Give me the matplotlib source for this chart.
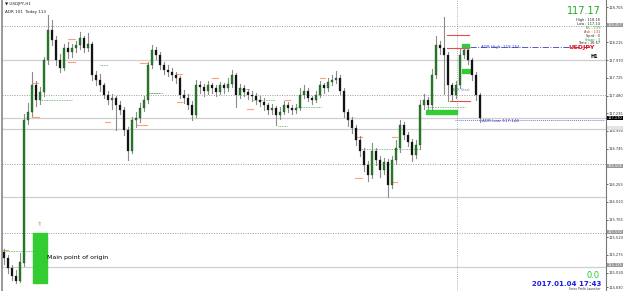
import matplotlib
matplotlib.use('Agg')
import matplotlib.pyplot as plt
from matplotlib.patches import Rectangle

# USDJPY candles (price)
closes = [115.23, 115.09, 114.98, 114.92, 115.17, 117.14, 117.25, 117.62, 117.42, 117.53,
          117.97, 118.39, 118.25, 117.97, 117.86, 118.14, 118.08, 118.14, 118.18, 118.28,
          118.14, 118.19, 117.76, 117.69, 117.62, 117.49, 117.42, 117.44, 117.35, 117.28,
          117.00, 116.72, 117.14, 117.17, 117.31, 117.42, 117.90, 118.11, 118.04, 117.90,
          117.83, 117.81, 117.76, 117.72, 117.49, 117.44, 117.35, 117.21, 117.62, 117.60,
          117.55, 117.62, 117.58, 117.53, 117.62, 117.58, 117.64, 117.76, 117.49, 117.58,
          117.53, 117.49, 117.47, 117.42, 117.39, 117.35, 117.28, 117.31, 117.21, 117.25,
          117.35, 117.31, 117.28, 117.31, 117.49, 117.55, 117.44, 117.42, 117.49, 117.62,
          117.58, 117.67, 117.69, 117.72, 117.55, 117.25, 117.14, 117.03, 116.86, 116.72,
          116.52, 116.38, 116.72, 116.59, 116.45, 116.56, 116.24, 116.59, 116.75, 117.07,
          116.93, 116.84, 116.66, 116.79, 117.35, 117.42, 117.35, 117.76, 118.18, 118.14,
          118.04, 117.62, 117.49, 117.62, 118.04, 118.11, 117.97, 117.76, 117.49, 117.17]
highs = [115.36, 115.28, 115.14, 115.06, 115.30, 117.22, 117.38, 117.80, 117.68, 117.60,
         118.02, 118.60, 118.52, 118.30, 118.05, 118.20, 118.22, 118.20, 118.24, 118.36,
         118.31, 118.35, 118.22, 117.82, 117.78, 117.66, 117.55, 117.50, 117.48, 117.40,
         117.32, 117.05, 117.18, 117.25, 117.38, 117.48, 117.95, 118.18, 118.15, 118.08,
         117.95, 117.90, 117.86, 117.80, 117.75, 117.56, 117.50, 117.40, 117.70, 117.68,
         117.64, 117.68, 117.66, 117.62, 117.67, 117.66, 117.72, 117.83, 117.79, 117.64,
         117.62, 117.57, 117.54, 117.52, 117.47, 117.44, 117.38, 117.36, 117.34, 117.32,
         117.40, 117.39, 117.35, 117.37, 117.58, 117.62, 117.58, 117.48, 117.54, 117.68,
         117.66, 117.72, 117.76, 117.82, 117.76, 117.58, 117.30, 117.18, 117.07, 116.92,
         116.76, 116.58, 116.82, 116.76, 116.64, 116.62, 116.60, 116.64, 116.86, 117.14,
         117.12, 116.98, 116.88, 116.86, 117.42, 117.50, 117.46, 117.85, 118.30, 118.24,
         118.57, 118.08, 117.66, 117.68, 118.12, 118.18, 118.14, 118.00, 117.80, 117.52]
lows = [115.15, 115.02, 114.93, 114.88, 114.90, 115.12, 117.08, 117.20, 117.33, 117.36,
        117.48, 117.92, 118.18, 117.90, 117.80, 117.83, 118.00, 118.02, 118.08, 118.12,
        118.08, 118.10, 117.70, 117.62, 117.55, 117.44, 117.36, 117.30, 117.00, 117.22,
        116.93, 116.59, 116.68, 117.05, 117.12, 117.26, 117.38, 117.86, 117.98, 117.85,
        117.78, 117.75, 117.70, 117.66, 117.44, 117.38, 117.30, 117.14, 117.18, 117.52,
        117.48, 117.50, 117.52, 117.47, 117.50, 117.52, 117.54, 117.60, 117.32, 117.44,
        117.47, 117.43, 117.40, 117.36, 117.33, 117.28, 117.22, 117.23, 117.07, 117.16,
        117.22, 117.25, 117.22, 117.24, 117.28, 117.45, 117.40, 117.37, 117.39, 117.46,
        117.52, 117.55, 117.62, 117.66, 117.50, 117.18, 117.06, 116.96, 116.80, 116.64,
        116.44, 116.30, 116.34, 116.52, 116.36, 116.40, 116.08, 116.20, 116.54, 116.70,
        116.88, 116.78, 116.58, 116.62, 116.74, 117.30, 117.28, 117.30, 117.72, 118.05,
        117.50, 117.40, 117.42, 117.45, 117.58, 118.00, 117.92, 117.70, 117.42, 117.12]
first_open = 115.31
opens = [first_open] + closes[:-1]

# right axis labels
tick_prices = [118.705, 118.460, 118.215, 117.970, 117.725, 117.480, 117.235, 116.990, 116.745,
               116.500, 116.255, 116.010, 115.765, 115.520, 115.275, 115.030, 114.830]
level_solid = [117.973, 117.170, 117.018, 116.077, 115.108]
level_dotted = [118.443, 117.488, 116.533, 115.578]
adr_high = 118.154
adr_low = 117.144
bid = 117.17

W, H = 625, 291
TOP = 118.803
BOT = TOP - H * 0.01384

def px(x):
    return (x - 4) / 4.0

def py(y):
    return TOP - y * (TOP - BOT) / H

fig = plt.figure(figsize=(W / 100, H / 100), dpi=100)
ax = fig.add_axes([2 / W, 0, 604 / W, 1])
ax.set_xlim(-0.5, 150.5)
ax.set_ylim(BOT, TOP)

# levels
for lv in level_solid:
    ax.axhline(lv, color='#cfcfcf', lw=0.9, zorder=1)
for lv in level_dotted:
    ax.axhline(lv, color='#9a9a9a', lw=0.7, ls=(0, (1, 1.5)), zorder=1)
ax.axvline(px(457), color='#9a9a9a', lw=0.6, ls=(0, (1, 1.5)), zorder=1)

# green zones
green = '#33cc33'
ax.add_patch(Rectangle((px(33), py(283)), px(47) - px(33), py(233) - py(283), color=green, zorder=2))
ax.add_patch(Rectangle((px(426), py(114)), px(457) - px(426), py(110) - py(114), color=green, zorder=2))
ax.add_patch(Rectangle((px(462), py(48)), px(469) - px(462), py(44) - py(48), color=green, zorder=2))
ax.add_patch(Rectangle((px(462), py(73)), px(470) - px(462), py(69) - py(73), color=green, zorder=2))

# pivot markers
salmon = [(68, 75, 39), (68, 75, 62), (33, 38, 83), (32, 39, 117), (105, 110, 122), (140, 147, 63),
          (137, 147, 125), (177, 182, 74), (177, 182, 102), (212, 218, 78), (247, 253, 109),
          (285, 290, 100), (320, 325, 78), (357, 362, 137), (355, 362, 178), (392, 397, 137),
          (392, 397, 182), (2, 8, 250)]
for x0, x1, y in salmon:
    ax.plot([px(x0), px(x1)], [py(y), py(y)], color='#ffa07a', lw=0.8, zorder=2)
gdots = [(150, 163, 93), (240, 250, 89), (252, 275, 100), (278, 287, 126), (297, 322, 107),
         (40, 72, 100), (100, 108, 65), (147, 160, 93), (360, 420, 149), (2, 35, 251), (426, 465, 107)]
for x0, x1, y in gdots:
    ax.plot([px(x0), px(x1)], [py(y), py(y)], color='#55aa55', lw=0.6, ls=(0, (1, 1)), zorder=2)

# red lines near the top
for x0, x1, y in [(447, 469, 35), (447, 468, 48), (450, 470, 101)]:
    ax.plot([px(x0), px(x1)], [py(y), py(y)], color='#e05050', lw=0.8, zorder=2)

# ADR lines
ax.plot([px(470), px(592)], [adr_high, adr_high], color='#5555cc', lw=0.7, ls='-.', zorder=2)
ax.plot([px(455), px(604)], [adr_low, adr_low], color='#7777dd', lw=0.7, ls=(0, (1, 1)), zorder=2)
ax.text(px(481), adr_high, 'ADR High: 118.154', fontsize=3, color='#4040c0', va='center')
ax.text(px(482), adr_low - 0.02, 'ADR Low: 117.144', fontsize=3, color='#4040c0', va='center')
ax.text(px(452), py(90), 'ADR Start', fontsize=2.5, color='#6b8fc8', va='center')

# candles
n = len(closes)
for i in range(n):
    o, c, h, l = opens[i], closes[i], highs[i], lows[i]
    ax.plot([i, i], [l, h], color='#8c8c8c', lw=0.8, zorder=3)
    up = c >= o
    ax.bar(i, abs(c - o) if abs(c - o) > 0.01 else 0.01, bottom=min(o, c), width=0.6,
           color='#1f8a1f' if up else '#111111', edgecolor='#222222', lw=0.2, zorder=4)

ax.text(px(47), py(257), 'Main point of origin', fontsize=4.5, color='black', va='center', zorder=5)
ax.text(px(39), py(224), '⇑', fontsize=4.5, color='#cc8844', ha='center', va='center')

# header texts
fig.text(5 / W, 1 - 4 / H, '▼ USDJPY,H1', fontsize=3, color='#222222', va='center')
fig.text(5 / W, 1 - 12 / H, 'ADR 101  Today 113', fontsize=3, color='#222222', va='center')

fig.text(601 / W, 1 - 11 / H, '117.17', fontsize=7, color='#22aa22', ha='right', va='center')
info = [('High : 118.18', '#222222'), ('Low : 117.14', '#222222'), ('BL : 133', '#22aa22'),
        ('Ask : 131', '#dd2222'), ('Sprd : 0', '#222222'), ('Swap : 3', '#22aa22'),
        ('Time : 16:57', '#222222')]
for k, (s, col) in enumerate(info):
    fig.text(600 / W, 1 - (20 + k * 3.9) / H, s, fontsize=2.5, color=col, ha='right', va='center')
fig.text(595 / W, 1 - 48 / H, 'USDJPY', fontsize=4.5, color='#ee1111', ha='right', va='center', weight='bold')
fig.text(598 / W, 1 - 57 / H, 'H1', fontsize=3.5, color='black', ha='right', va='center', weight='bold')

fig.text(600 / W, 1 - 276 / H, '0.0', fontsize=6, color='#22cc22', ha='right', va='center')
fig.text(601 / W, 1 - 284.5 / H, '2017.01.04 17:43', fontsize=5, color='#1a1aee', ha='right',
         va='center', weight='bold')
fig.text(601 / W, 1 - 289.5 / H, 'Forex Profit Launcher', fontsize=2.2, color='#333333', ha='right', va='center')

# axes styling
for s in ['top', 'bottom']:
    ax.spines[s].set_visible(False)
ax.spines['left'].set_color('#888888')
ax.spines['right'].set_color('#777777')
ax.spines['left'].set_linewidth(1.2)
ax.spines['right'].set_linewidth(0.8)
ax.set_xticks([])
ax.yaxis.tick_right()
ax.set_yticks(tick_prices)
ax.set_yticklabels(['%.3f' % t for t in tick_prices])
ax.tick_params(axis='y', labelsize=2.6, colors='#333333', length=1.5, width=0.5, pad=0.5)

# highlighted price boxes on the scale
for p, fc, tc in [(bid, 'black', 'white'), (py(25), '#999999', 'white'), (py(128), '#dddddd', 'white'),
                  (py(166), '#999999', 'white'), (py(232), '#999999', 'white'), (py(265), '#999999', 'white')]:
    ax.text(1.0025, p, '%.3f' % p, transform=ax.get_yaxis_transform(), fontsize=2.6, color=tc,
            va='center', ha='left', bbox=dict(boxstyle='square,pad=0.12', fc=fc, ec='none'), zorder=6)

fig.savefig('out.png', dpi=100)
